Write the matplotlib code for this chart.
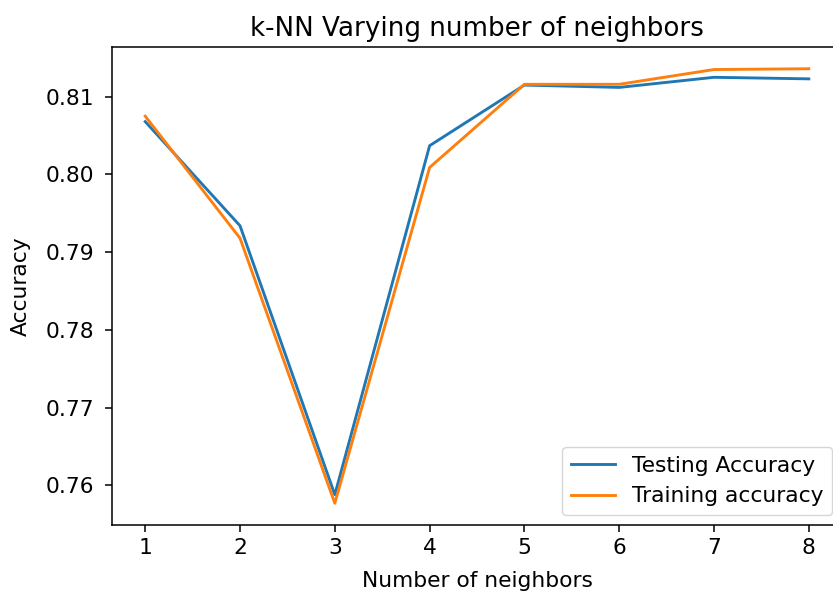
import matplotlib
matplotlib.use("Agg")
import matplotlib.pyplot as plt

neighbors = [1, 2, 3, 4, 5, 6, 7, 8]
test_accuracy = [0.8068, 0.7934, 0.7588, 0.8037, 0.8115, 0.8112, 0.8125, 0.8123]
train_accuracy = [0.8075, 0.7918, 0.7577, 0.8009, 0.8116, 0.8116, 0.8135, 0.8136]

s = 1.38   # scale for lines and ticks
t = 1.57   # scale for text
plt.rcParams.update({
    "font.size": 10 * t,
    "axes.linewidth": 0.8 * s,
    "xtick.major.width": 0.8 * s,
    "ytick.major.width": 0.8 * s,
    "xtick.major.size": 3.5 * s,
    "ytick.major.size": 3.5 * s,
    "xtick.major.pad": 3.5 * s,
    "ytick.major.pad": 8,
    "axes.titlepad": 6 * s,
})

fig = plt.figure(figsize=(8.33, 5.93), dpi=100)
ax = fig.add_axes([0.1345, 0.1147, 0.8763, 0.806])

ax.plot(neighbors, test_accuracy, label="Testing Accuracy", linewidth=1.5 * s)
ax.plot(neighbors, train_accuracy, label="Training accuracy", linewidth=1.5 * s)

ax.set_title("k-NN Varying number of neighbors", fontsize=12 * t)
ax.set_xlabel("Number of neighbors", labelpad=9)
ax.set_ylabel("Accuracy", labelpad=10.5)
ax.legend(loc="lower right", borderaxespad=0.45)

fig.savefig("out.png", dpi=100)
